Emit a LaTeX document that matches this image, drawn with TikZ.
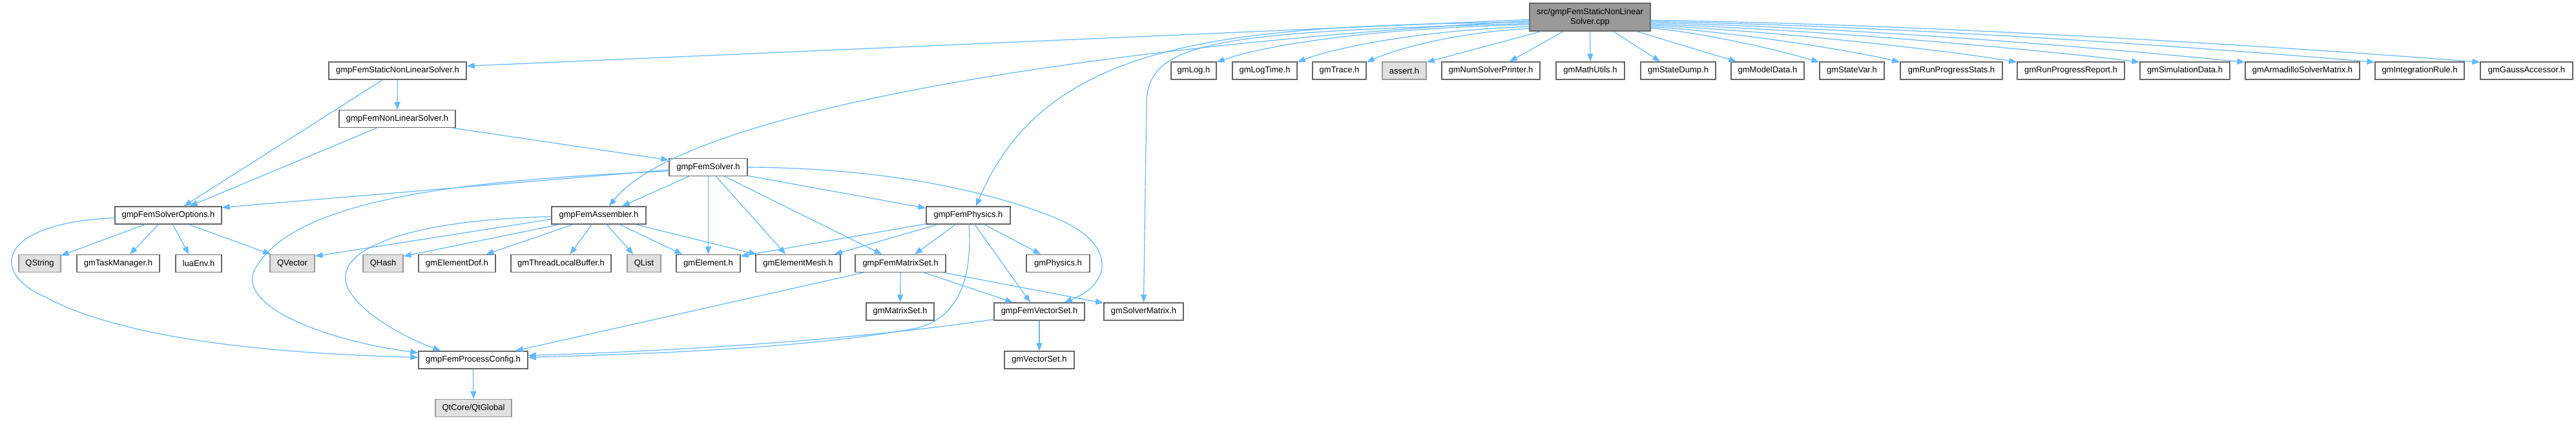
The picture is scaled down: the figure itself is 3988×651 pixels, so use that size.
\documentclass[tikz,border=0pt]{standalone}
\usepackage{fontspec}
\setmainfont{Liberation Sans}
\usetikzlibrary{arrows.meta,calc}
\definecolor{edgeblue}{HTML}{63B8FF}
\definecolor{bdark}{HTML}{666666}
\definecolor{blight}{HTML}{999999}
\definecolor{gfill}{HTML}{E0E0E0}
\definecolor{rootfill}{HTML}{999999}
\begin{document}
\begin{tikzpicture}[x=1pt,y=-1pt,
 nbox/.style={draw=bdark, fill=white, line width=1.4pt, minimum height=27pt, inner sep=0pt, font=\fontsize{13}{15}\selectfont, text=black},
 extbox/.style={nbox, draw=blight, fill=gfill},
 rootbox/.style={nbox, fill=rootfill, minimum height=43pt, align=center},
 conn/.style={draw=edgeblue, line width=1.2pt, -{Triangle[length=12pt,width=9pt]}}]
\fill[white] (0,0) rectangle (3988,651);
\useasboundingbox (0,0) rectangle (3988,651);

% nodes
\node[rootbox, minimum width=187pt] (root) at (2461.5,26.5) {src/gmpFemStaticNonLinear\\Solver.cpp};
% row 1
\node[nbox, minimum width=213pt] (sNLS) at (615.5,109.5) {gmpFemStaticNonLinearSolver.h};
\node[nbox, minimum width=70pt] (log) at (1848,109.5) {gmLog.h};
\node[nbox, minimum width=100pt] (logtime) at (1958,109.5) {gmLogTime.h};
\node[nbox, minimum width=83pt] (trace) at (2073.5,109.5) {gmTrace.h};
\node[extbox, minimum width=68pt] (assert) at (2174,109.5) {assert.h};
\node[nbox, minimum width=152pt] (nsp) at (2308,109.5) {gmNumSolverPrinter.h};
\node[nbox, minimum width=106pt] (mathu) at (2462,109.5) {gmMathUtils.h};
\node[nbox, minimum width=116pt] (sdump) at (2598,109.5) {gmStateDump.h};
\node[nbox, minimum width=113pt] (mdata) at (2736.5,109.5) {gmModelData.h};
\node[nbox, minimum width=100pt] (svar) at (2867,109.5) {gmStateVar.h};
\node[nbox, minimum width=158pt] (rps) at (3021,109.5) {gmRunProgressStats.h};
\node[nbox, minimum width=166pt] (rpr) at (3206,109.5) {gmRunProgressReport.h};
\node[nbox, minimum width=139pt] (simd) at (3382.5,109.5) {gmSimulationData.h};
\node[nbox, minimum width=177pt] (arma) at (3564.5,109.5) {gmArmadilloSolverMatrix.h};
\node[nbox, minimum width=138pt] (irule) at (3746,109.5) {gmIntegrationRule.h};
\node[nbox, minimum width=143pt] (gauss) at (3911.5,109.5) {gmGaussAccessor.h};
% row 2, 3
\node[nbox, minimum width=180pt] (NLS) at (615,184) {gmpFemNonLinearSolver.h};
\node[nbox, minimum width=121pt] (solver) at (1096.5,259) {gmpFemSolver.h};
% row 4
\node[nbox, minimum width=165pt] (opts) at (260.5,333.5) {gmpFemSolverOptions.h};
\node[nbox, minimum width=146pt] (asm) at (927,333.5) {gmpFemAssembler.h};
\node[nbox, minimum width=130pt] (phys) at (1499,333.5) {gmpFemPhysics.h};
% row 5
\node[extbox, minimum width=65pt] (qstring) at (61.5,408) {QString};
\node[nbox, minimum width=128pt] (taskmgr) at (183,408) {gmTaskManager.h};
\node[nbox, minimum width=71pt] (luaenv) at (307.5,408) {luaEnv.h};
\node[extbox, minimum width=69pt] (qvector) at (452.5,408) {QVector};
\node[extbox, minimum width=62pt] (qhash) at (593,408) {QHash};
\node[nbox, minimum width=119pt] (edof) at (707.5,408) {gmElementDof.h};
\node[nbox, minimum width=155pt] (tlb) at (868.5,408) {gmThreadLocalBuffer.h};
\node[extbox, minimum width=52pt] (qlist) at (997,408) {QList};
\node[nbox, minimum width=99pt] (elem) at (1096.5,408) {gmElement.h};
\node[nbox, minimum width=131pt] (emesh) at (1235.5,408) {gmElementMesh.h};
\node[nbox, minimum width=140pt] (fmset) at (1394,408) {gmpFemMatrixSet.h};
\node[nbox, minimum width=98pt] (gphys) at (1638,408) {gmPhysics.h};
% row 6
\node[nbox, minimum width=105pt] (mset) at (1393.5,482.5) {gmMatrixSet.h};
\node[nbox, minimum width=140pt] (fvset) at (1609,482.5) {gmpFemVectorSet.h};
\node[nbox, minimum width=123pt] (smat) at (1770.5,482.5) {gmSolverMatrix.h};
% row 7, 8
\node[nbox, minimum width=169pt] (pconf) at (732.5,557.5) {gmpFemProcessConfig.h};
\node[nbox, minimum width=108pt] (vset) at (1609,557.5) {gmVectorSet.h};
\node[extbox, minimum width=118pt] (qtglobal) at (733,632) {QtCore/QtGlobal};

% edges from root, left side
\draw[conn] ($(root.north west)+(0,26)$) -- ($(sNLS.north east)+(0,7)$);
\draw[conn] ($(root.north west)+(0,28)$) .. controls (1700,70) and (1060,170) .. ($(asm.north)+(16,0)$);
\draw[conn] ($(root.north west)+(0,30)$) .. controls (1900,40) and (1620,60) .. ($(phys.north)+(12,0)$);
\draw[conn] ($(root.north west)+(0,32)$) .. controls (1900,50) and (1775,60) .. (1775,160) -- (smat.north);
\draw[conn] ($(root.north west)+(0,34)$) .. controls +(-250,5) and +(70,-25) .. ($(log.north east)+(0,1)$);
\draw[conn] ($(root.north west)+(0,37)$) .. controls +(-180,6) and +(50,-20) .. ($(logtime.north east)+(0,1)$);
\draw[conn] ($(root.north west)+(0,40)$) .. controls +(-120,6) and +(40,-18) .. ($(trace.north east)+(0,1)$);
\draw[conn] ($(root.south west)+(18,0)$) -- ($(assert.north east)+(0,1)$);
\draw[conn] ($(root.south west)+(53,0)$) -- ($(nsp.north)+(29,0)$);
\draw[conn] (root.south) -- (mathu.north);
\draw[conn] ($(root.south east)+(-58,0)$) -- ($(sdump.north west)+(31,0)$);
\draw[conn] ($(root.south east)+(-22,0)$) -- ($(mdata.north west)+(9,0)$);
% edges from root, right side
\draw[conn] ($(root.north east)+(0,39)$) .. controls +(100,10) and +(-50,-15) .. ($(svar.north west)+(0,1)$);
\draw[conn] ($(root.north east)+(0,37)$) .. controls +(150,10) and +(-60,-15) .. ($(rps.north west)+(0,1)$);
\draw[conn] ($(root.north east)+(0,35)$) .. controls +(220,10) and +(-80,-14) .. ($(rpr.north west)+(0,1)$);
\draw[conn] ($(root.north east)+(0,33)$) .. controls +(300,10) and +(-100,-13) .. ($(simd.north west)+(0,1)$);
\draw[conn] ($(root.north east)+(0,31)$) .. controls +(380,9) and +(-120,-12) .. ($(arma.north west)+(0,1)$);
\draw[conn] ($(root.north east)+(0,29)$) .. controls +(450,8) and +(-140,-12) .. ($(irule.north west)+(0,1)$);
\draw[conn] ($(root.north east)+(0,27)$) .. controls +(520,8) and +(-150,-12) .. ($(gauss.north west)+(0,1)$);

% static non linear solver
\draw[conn] (sNLS.south) -- (NLS.north);
\draw[conn] ($(sNLS.south west)+(84,0)$) -- ($(opts.north)+(24,0)$);
% non linear solver
\draw[conn] ($(NLS.south west)+(59,0)$) -- ($(opts.north)+(33,0)$);
\draw[conn] ($(NLS.south east)+(-5,0)$) -- ($(solver.north west)+(0,3)$);
% solver
\draw[conn] ($(solver.west)+(0,4)$) -- ($(opts.north east)+(0,2)$);
\draw[conn] ($(solver.west)+(0,6)$) .. controls (700,280) and (450,310) .. (393,420) .. controls (370,480) and (520,530) .. ($(pconf.north west)+(0,3)$);
\draw[conn] ($(solver.south west)+(31,0)$) -- ($(asm.north)+(36,0)$);
\draw[conn] (solver.south) -- (elem.north);
\draw[conn] ($(solver.south)+(12,0)$) -- ($(emesh.north west)+(47,0)$);
\draw[conn] ($(solver.south)+(25,0)$) -- ($(fmset.north west)+(42,0)$);
\draw[conn] ($(solver.south east)+(0,-1)$) -- ($(phys.north west)+(0,3)$);
\draw[conn] (solver.east) .. controls (1350,260) and (1520,290) .. (1640,340) .. controls (1730,380) and (1720,440) .. ($(fvset.north east)+(-32,0)$);
% assembler
\draw[conn] ($(asm.west)+(0,2)$) .. controls (650,340) and (520,380) .. (536,440) .. controls (550,480) and (620,520) .. ($(pconf.north)+(-50,0)$);
\draw[conn] ($(asm.west)+(0,6)$) -- ($(qvector.north east)+(0,3)$);
\draw[conn] ($(asm.south west)+(13,0)$) -- ($(qhash.north east)+(0,3)$);
\draw[conn] ($(asm.south west)+(34,0)$) -- ($(edof.north)+(45,0)$);
\draw[conn] ($(asm.south west)+(63,0)$) -- ($(tlb.north)+(14,0)$);
\draw[conn] ($(asm.south west)+(86,0)$) -- ($(qlist.north west)+(10,0)$);
\draw[conn] ($(asm.south west)+(106,0)$) -- ($(elem.north west)+(10,0)$);
\draw[conn] ($(asm.south west)+(131,0)$) -- ($(emesh.north west)+(2,0)$);
% solver options
\draw[conn] ($(opts.south west)+(47,0)$) -- ($(qstring.north east)+(0,2)$);
\draw[conn] ($(opts.south west)+(68,0)$) -- ($(taskmgr.north)+(18,0)$);
\draw[conn] ($(opts.south west)+(90,0)$) -- ($(luaenv.north)+(-15,0)$);
\draw[conn] ($(opts.south west)+(115,0)$) -- ($(qvector.north west)+(2,0)$);
\draw[conn] ($(opts.west)+(0,4)$) .. controls (0,345) and (-20,420) .. (70,460) .. controls (200,530) and (450,548) .. ($(pconf.west)+(0,-4)$);
% physics
\draw[conn] ($(phys.south west)+(0,-1)$) -- ($(elem.north east)+(0,3)$);
\draw[conn] ($(phys.south west)+(18,0)$) -- ($(emesh.north east)+(-10,0)$);
\draw[conn] ($(phys.south west)+(46,0)$) -- ($(fmset.north)+(22,0)$);
\draw[conn] ($(phys.south)+(1,0)$) .. controls (1505,420) and (1490,490) .. (1420,508) .. controls (1250,540) and (1000,548) .. ($(pconf.east)+(0,-4)$);
\draw[conn] ($(phys.south)+(25,0)$) -- ($(gphys.north west)+(23,0)$);
\draw[conn] ($(phys.south)+(10,0)$) -- ($(fvset.north)+(-14,0)$);
% matrix set
\draw[conn] ($(fmset.south west)+(13,0)$) -- ($(pconf.north east)+(-20,0)$);
\draw[conn] (fmset.south) -- (mset.north);
\draw[conn] ($(fmset.south)+(37,0)$) -- ($(fvset.north west)+(30,0)$);
\draw[conn] ($(fmset.south east)+(-4,0)$) -- ($(smat.north west)+(0,1)$);
% vector set
\draw[conn] ($(fvset.south west)+(0,-2)$) .. controls (1300,530) and (1000,545) .. ($(pconf.east)+(0,-7)$);
\draw[conn] (fvset.south) -- (vset.north);
% process config
\draw[conn] (pconf.south) -- (qtglobal.north);
\end{tikzpicture}
\end{document}
